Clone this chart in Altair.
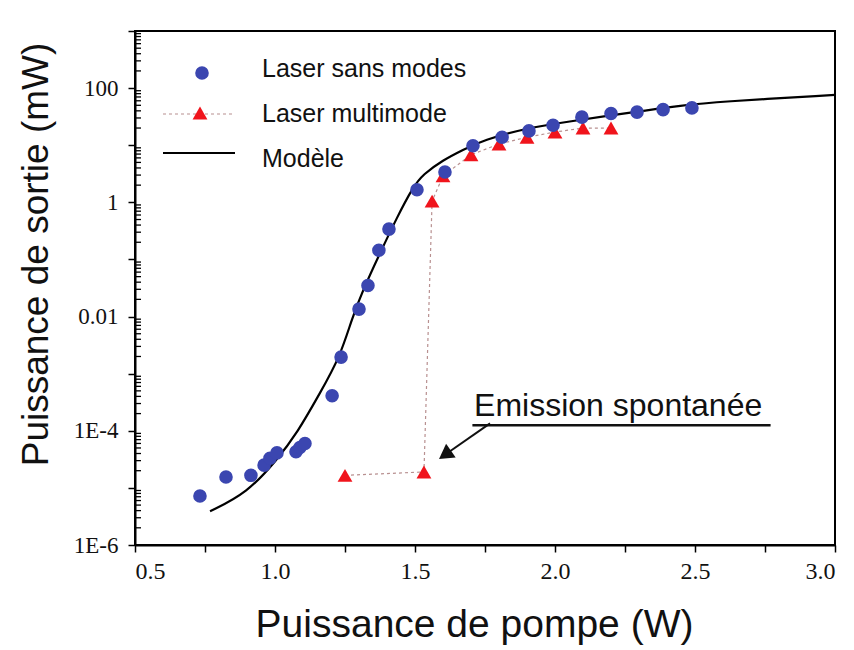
import altair as alt
import pandas as pd

# ---- data ----
sans_modes_w = [0.732, 0.825, 0.914, 0.961, 0.982, 1.007, 1.075, 1.089, 1.107, 1.204, 1.236,
                1.300, 1.332, 1.371, 1.407, 1.507, 1.607, 1.707, 1.811, 1.907, 1.993, 2.096,
                2.200, 2.293, 2.386, 2.489]
sans_modes_mw = [7.2e-6, 1.55e-5, 1.66e-5, 2.5e-5, 3.3e-5, 4.1e-5, 4.3e-5, 5.1e-5, 6.0e-5,
                 4.1e-4, 1.95e-3, 0.0135, 0.035, 0.145, 0.34, 1.66, 3.4, 9.8, 13.8, 17.8,
                 22.4, 31.0, 36.0, 38.0, 42.0, 45.0]

multimode_w = [1.250, 1.532, 1.561, 1.600, 1.700, 1.800, 1.900, 2.000, 2.100, 2.200]
multimode_mw = [1.66e-5, 1.9e-5, 1.05, 2.9, 6.8, 10.5, 13.8, 17.0, 20.0, 20.0]

modele_w = [0.768, 0.900, 1.007, 1.079, 1.161, 1.232, 1.275, 1.314, 1.375, 1.436, 1.493,
            1.529, 1.600, 1.671, 1.743, 1.900, 2.043, 2.279, 2.457, 2.579, 3.000]
modele_mw = [3.9e-6, 8.1e-6, 3.1e-5, 9.1e-5, 4.6e-4, 1.95e-3, 9.3e-3, 0.029, 0.129, 0.55,
             1.86, 3.1, 5.5, 8.3, 12.3, 20.0, 25.7, 38.0, 50.0, 57.5, 76.0]

legend_labels = ["Laser sans modes", "Laser multimode", "Modèle"]
annotation_text = "Emission spontanée"
x_title = "Puissance de pompe (W)"
y_title = "Puissance de sortie (mW)"

x_tick_values = [0.5, 0.75, 1.0, 1.25, 1.5, 1.75, 2.0, 2.25, 2.5, 2.75, 3.0]
y_tick_values = [1e-6, 1e-5, 1e-4, 1e-3, 1e-2, 1e-1, 1, 10, 100, 1000]
y_tick_labels = {-6: "1E-6", -4: "1E-4", -2: "0.01", 0: "1", 2: "100"}
y_minor = [m * d for d in [1e-6, 1e-5, 1e-4, 1e-3, 1e-2, 1e-1, 1, 10, 100] for m in range(2, 10)]

# annotation (data coordinates)
ann_text_pos = (1.711, 1.8e-4)
ann_underline = (1.705, 2.77, 1.25e-4)
ann_arrow = (1.768, 1.35e-4, 1.607, 3.8e-5)

BLUE = "#3b46b0"
RED = "#f0141c"
FONT = "Liberation Sans"
SERIF = "Liberation Serif"

xs = alt.Scale(domain=[0.5, 3.0], nice=False, zero=False)
ys = alt.Scale(type="log", domain=[1e-6, 1e3], nice=False)

y_label_expr = "".join(
    f"round(log(datum.value)/LN10) == {k} ? '{v}' : " for k, v in y_tick_labels.items()
) + "''"

x_axis = alt.Axis(values=x_tick_values, labelExpr="(datum.value*2) % 1 == 0 ? format(datum.value, '.1f') : ''",
                  grid=False, domainColor="black", domainWidth=2, tickColor="black", tickWidth=1.5,
                  tickSize=7, labelFont=SERIF, labelFontSize=24, labelColor="#111", labelPadding=7,
                  title=x_title, titleFont=FONT, titleFontSize=39, titleFontWeight="normal",
                  titleColor="#111", titleX=339, titleY=91, titleAnchor="start", titleAlign="center",
                  titleBaseline="alphabetic")
y_axis = alt.Axis(values=y_tick_values, labelExpr=y_label_expr,
                  grid=False, domainColor="black", domainWidth=2, tickColor="black", tickWidth=1.5,
                  tickSize=7, labelFont=SERIF, labelFontSize=23, labelColor="#111", labelPadding=10,
                  title=y_title, titleFont=FONT, titleFontSize=37, titleFontWeight="normal",
                  titleColor="#111", titleX=-99, titleY=223, titleAngle=-90, titleAlign="center",
                  titleBaseline="middle", titleAnchor="start")

df_sm = pd.DataFrame({"w": sans_modes_w, "mw": sans_modes_mw})
df_mm = pd.DataFrame({"w": multimode_w, "mw": multimode_mw})
df_mo = pd.DataFrame({"w": modele_w, "mw": modele_mw})
df_minor = pd.DataFrame({"mw": y_minor})

model = alt.Chart(df_mo).mark_line(color="black", strokeWidth=2.2, interpolate="basis").encode(
    x=alt.X("w:Q", scale=xs, axis=x_axis),
    y=alt.Y("mw:Q", scale=ys, axis=y_axis),
)
mm_line = alt.Chart(df_mm).mark_line(color="#b89090", strokeWidth=1.2, strokeDash=[3, 3]).encode(
    x=alt.X("w:Q", scale=xs), y=alt.Y("mw:Q", scale=ys))
mm_pts = alt.Chart(df_mm).mark_point(shape="triangle-up", filled=True, color=RED, size=220, opacity=1).encode(
    x=alt.X("w:Q", scale=xs), y=alt.Y("mw:Q", scale=ys))
sm_pts = alt.Chart(df_sm).mark_circle(color=BLUE, size=185, opacity=1).encode(
    x=alt.X("w:Q", scale=xs), y=alt.Y("mw:Q", scale=ys))

minor_ticks = alt.Chart(df_minor).mark_rule(color="black", strokeWidth=1.3).encode(
    x=alt.value(0), x2=alt.value(6), y=alt.Y("mw:Q", scale=ys))

# annotation
df_ann = pd.DataFrame({"w": [ann_text_pos[0]], "mw": [ann_text_pos[1]], "t": [annotation_text]})
ann_text = alt.Chart(df_ann).mark_text(font=FONT, fontSize=32, align="left", baseline="alphabetic",
                                       color="#111").encode(
    x=alt.X("w:Q", scale=xs), y=alt.Y("mw:Q", scale=ys), text="t:N")
df_ul = pd.DataFrame({"w": [ann_underline[0]], "w2": [ann_underline[1]], "mw": [ann_underline[2]]})
ann_ul = alt.Chart(df_ul).mark_rule(color="#111", strokeWidth=2.5).encode(
    x=alt.X("w:Q", scale=xs), x2="w2:Q", y=alt.Y("mw:Q", scale=ys))
df_ar = pd.DataFrame({"w": [ann_arrow[0]], "mw": [ann_arrow[1]], "w2": [ann_arrow[2]], "mw2": [ann_arrow[3]]})
ann_ar = alt.Chart(df_ar).mark_rule(color="#111", strokeWidth=2).encode(
    x=alt.X("w:Q", scale=xs), y=alt.Y("mw:Q", scale=ys), x2="w2:Q", y2="mw2:Q")
df_head = pd.DataFrame({"w": [ann_arrow[2]], "mw": [ann_arrow[3]]})
ann_head = alt.Chart(df_head).mark_point(shape="triangle-up", filled=True, color="#111", size=280,
                                         angle=235, opacity=1).encode(
    x=alt.X("w:Q", scale=xs), y=alt.Y("mw:Q", scale=ys))

# legend (pixel positions inside the plot)
leg_text = [
    alt.Chart(pd.DataFrame({"t": [legend_labels[i]]})).mark_text(
        font=FONT, fontSize=25, align="left", baseline="alphabetic", color="#111").encode(
        x=alt.value(127), y=alt.value(46 + 45 * i), text="t:N")
    for i in range(3)
]
leg_circle = alt.Chart(pd.DataFrame({"a": [0]})).mark_circle(color=BLUE, size=185, opacity=1).encode(
    x=alt.value(67), y=alt.value(42))
leg_dash = alt.Chart(pd.DataFrame({"a": [0]})).mark_rule(color="#b89090", strokeWidth=1.2, strokeDash=[3, 3]).encode(
    x=alt.value(28), x2=alt.value(100), y=alt.value(83))
leg_tri = alt.Chart(pd.DataFrame({"a": [0]})).mark_point(shape="triangle-up", filled=True, color=RED,
                                                          size=220, opacity=1).encode(
    x=alt.value(65), y=alt.value(82))
leg_line = alt.Chart(pd.DataFrame({"a": [0]})).mark_rule(color="black", strokeWidth=2.2).encode(
    x=alt.value(28), x2=alt.value(100), y=alt.value(122))

chart = alt.layer(
    model, mm_line, mm_pts, sm_pts, minor_ticks, ann_text, ann_ul, ann_ar, ann_head,
    leg_circle, leg_dash, leg_tri, leg_line, *leg_text
).properties(
    width=700, height=514,
    autosize=alt.AutoSizeParams(type="none"),
    padding={"left": 127, "top": 23, "right": 11, "bottom": 105},
    background="white",
).configure_view(stroke="black", strokeWidth=2)

chart.save("out.html", embed_options={"renderer": "svg", "actions": False})
